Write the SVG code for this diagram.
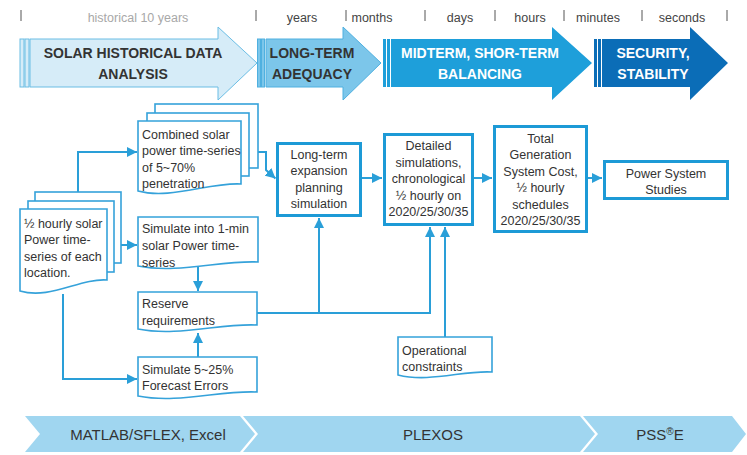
<svg xmlns="http://www.w3.org/2000/svg" width="747" height="455" viewBox="0 0 747 455">
<defs>
<marker id="ah" markerUnits="userSpaceOnUse" markerWidth="10" markerHeight="10" refX="10" refY="5" orient="auto">
<path d="M0,0 L10,5 L0,10 Z" fill="#2a9fd8"/>
</marker>
<style>
text{font-family:"Liberation Sans",Arial,sans-serif;fill:#333}
.tl{font-size:12.5px;fill:#444;text-anchor:middle}
.tk{stroke:#555;stroke-width:1}
.ph{font-size:14px;font-weight:bold;text-anchor:middle}
.phw{font-size:14px;font-weight:bold;text-anchor:middle;fill:#fff}
.doc{fill:#fff;stroke:#35a2da;stroke-width:1.6}
.box{fill:#fff;stroke:#1d9ad6;stroke-width:3}
.t{font-size:12.5px}
.tc{font-size:12.5px;text-anchor:middle}
.con{fill:none;stroke:#2a9fd8;stroke-width:2}
.arr{marker-end:url(#ah)}
.band{fill:#a0d6f0}
.bt{font-size:15px;text-anchor:middle}
</style>
</defs>
<rect width="747" height="455" fill="#fff"/>

<g id="timeline">
<line class="tk" x1="21" y1="10" x2="21" y2="21"/>
<line class="tk" x1="256" y1="10" x2="256" y2="21"/>
<line class="tk" x1="346" y1="10" x2="346" y2="21"/>
<line class="tk" x1="425" y1="10" x2="425" y2="21"/>
<line class="tk" x1="495" y1="10" x2="495" y2="21"/>
<line class="tk" x1="564" y1="10" x2="564" y2="21"/>
<line class="tk" x1="642" y1="10" x2="642" y2="21"/>
<line class="tk" x1="727" y1="10" x2="727" y2="21"/>
<text class="tl" x="138" y="22" style="fill:#a8a8a8">historical 10 years</text>
<text class="tl" x="302" y="22">years</text>
<text class="tl" x="372" y="22">months</text>
<text class="tl" x="460" y="22">days</text>
<text class="tl" x="530" y="22">hours</text>
<text class="tl" x="598" y="22">minutes</text>
<text class="tl" x="682" y="22">seconds</text>
</g>

<g id="phase1">
<rect x="20" y="39" width="4" height="48" fill="#d6ecf8" stroke="#6bbde4" stroke-width="1"/>
<rect x="25" y="39" width="4" height="48" fill="#d6ecf8" stroke="#6bbde4" stroke-width="1"/>
<path d="M30,39 H218 V27 L257,63 L218,100 V87 H30 Z" fill="#d6ecf8" stroke="#6bbde4" stroke-width="1"/>
<text class="ph" x="133" y="58">SOLAR HISTORICAL DATA</text>
<text class="ph" x="133" y="79">ANALYSIS</text>
</g>
<g id="phase2">
<rect x="257.5" y="39" width="3" height="48" fill="#7cc6ea" stroke="#4fb0e0" stroke-width="1"/>
<rect x="261.5" y="39" width="3" height="48" fill="#7cc6ea" stroke="#4fb0e0" stroke-width="1"/>
<path d="M266,39 H343 V27 L381,63 L343,100 V87 H266 Z" fill="#7cc6ea" stroke="#4fb0e0" stroke-width="1"/>
<text class="ph" x="312" y="58">LONG-TERM</text>
<text class="ph" x="312" y="79">ADEQUACY</text>
</g>
<g id="phase3">
<rect x="383" y="39" width="3" height="48" fill="#1e9fda"/>
<rect x="387" y="39" width="3" height="48" fill="#1e9fda"/>
<path d="M391,39 H552 V27 L592,63 L552,100 V87 H391 Z" fill="#1e9fda"/>
<text class="phw" x="480" y="58">MIDTERM, SHOR-TERM</text>
<text class="phw" x="480" y="79">BALANCING</text>
</g>
<g id="phase4">
<rect x="594" y="39" width="3" height="48" fill="#0b6db7"/>
<rect x="598" y="39" width="3" height="48" fill="#0b6db7"/>
<path d="M602,39 H690 V27 L728,63 L690,100 V87 H602 Z" fill="#0b6db7"/>
<text class="phw" x="653" y="58">SECURITY,</text>
<text class="phw" x="653" y="79">STABILITY</text>
</g>

<g id="connectors">
<path class="con arr" d="M78,192 V152 H137"/>
<path class="con arr" d="M121,245 H137"/>
<path class="con arr" d="M63,294 V379 H137"/>
<path class="con arr" d="M198,265 V291"/>
<path class="con arr" d="M198,357 V333"/>
<path class="con arr" d="M258,152 H266 V170 L275.5,178.5"/>
<path class="con arr" d="M257,313 H430 V227"/>
<path class="con arr" d="M319,313 V218"/>
<path class="con arr" d="M445,337 V227"/>
<path class="con arr" d="M362,178 H382"/>
<path class="con arr" d="M474,178 H492"/>
<path class="con arr" d="M588,178 H602"/>
</g>

<g id="input-doc">
<rect class="doc" x="35" y="192" width="86" height="71"/>
<rect class="doc" x="28" y="201" width="86" height="71"/>
<path class="doc" d="M20,209 H107 V280 C80,278 50,300 20,291 Z"/>
<text class="t" x="24" y="227.5">½ hourly solar</text>
<text class="t" x="24" y="244">Power time-</text>
<text class="t" x="24" y="260.5">series of each</text>
<text class="t" x="24" y="277">location.</text>
</g>

<g id="combined-doc">
<rect class="doc" x="155" y="104" width="103" height="64"/>
<rect class="doc" x="147" y="113" width="102" height="63"/>
<path class="doc" d="M138,121 H241 V184 C210,182 170,200 138,191 Z"/>
<text class="t" x="142" y="138.5">Combined solar</text>
<text class="t" x="142" y="155">power time-series</text>
<text class="t" x="142" y="171.5">of 5~70%</text>
<text class="t" x="142" y="188">penetration</text>
</g>

<g id="simulate-1min">
<path class="doc" d="M138,217 H258 V262 C222,260 178,274 138,266 Z"/>
<text class="t" x="142" y="233">Simulate into 1-min</text>
<text class="t" x="142" y="250">solar Power time-</text>
<text class="t" x="142" y="266.5">series</text>
</g>

<g id="reserve">
<path class="doc" d="M138,292 H257 V325 C221,323 178,337 138,329 Z"/>
<text class="t" x="142" y="308">Reserve</text>
<text class="t" x="142" y="325">requirements</text>
</g>

<g id="forecast-errors">
<path class="doc" d="M138,357 H257 V392 C221,390 178,404 138,396 Z"/>
<text class="t" x="142" y="373.5">Simulate 5~25%</text>
<text class="t" x="142" y="390">Forecast Errors</text>
</g>

<g id="operational">
<path class="doc" d="M398,337 H492 V372 C464,370 430,383 398,375 Z"/>
<text class="t" x="402" y="354.5">Operational</text>
<text class="t" x="402" y="371">constraints</text>
</g>

<g id="long-term">
<rect class="box" x="277.5" y="143.5" width="83" height="72"/>
<text class="tc" x="319" y="158.5">Long-term</text>
<text class="tc" x="319" y="175">expansion</text>
<text class="tc" x="319" y="191.5">planning</text>
<text class="tc" x="319" y="208">simulation</text>
</g>

<g id="detailed">
<rect class="box" x="384.5" y="134.5" width="88" height="90"/>
<text class="tc" x="428.5" y="150">Detailed</text>
<text class="tc" x="428.5" y="166.5">simulations,</text>
<text class="tc" x="428.5" y="183">chronological</text>
<text class="tc" x="428.5" y="199.5">½ hourly on</text>
<text class="tc" x="428.5" y="216">2020/25/30/35</text>
</g>

<g id="total">
<rect class="box" x="494.5" y="126.5" width="92" height="105"/>
<text class="tc" x="540.5" y="142.5">Total</text>
<text class="tc" x="540.5" y="159">Generation</text>
<text class="tc" x="540.5" y="175.5">System Cost,</text>
<text class="tc" x="540.5" y="192">½ hourly</text>
<text class="tc" x="540.5" y="208.5">schedules</text>
<text class="tc" x="540.5" y="225">2020/25/30/35</text>
</g>

<g id="power-studies">
<rect class="box" x="604.5" y="161.5" width="123" height="37"/>
<text class="tc" x="666" y="177.5">Power System</text>
<text class="tc" x="666" y="193.5">Studies</text>
</g>

<g id="tools">
<path class="band" d="M25,416 H240 L255,434 L240,452 H25 L40,434 Z"/>
<path class="band" d="M243,416 H580 L595,434 L580,452 H243 L258,434 Z"/>
<path class="band" d="M583,416 H732 L746,434 L732,452 H583 L598,434 Z"/>
<text class="bt" x="148" y="439.5">MATLAB/SFLEX, Excel</text>
<text class="bt" x="433" y="439.5">PLEXOS</text>
<text class="bt" x="660" y="439.5">PSS<tspan font-size="10" dy="-5">®</tspan><tspan dy="5">E</tspan></text>
</g>
</svg>
